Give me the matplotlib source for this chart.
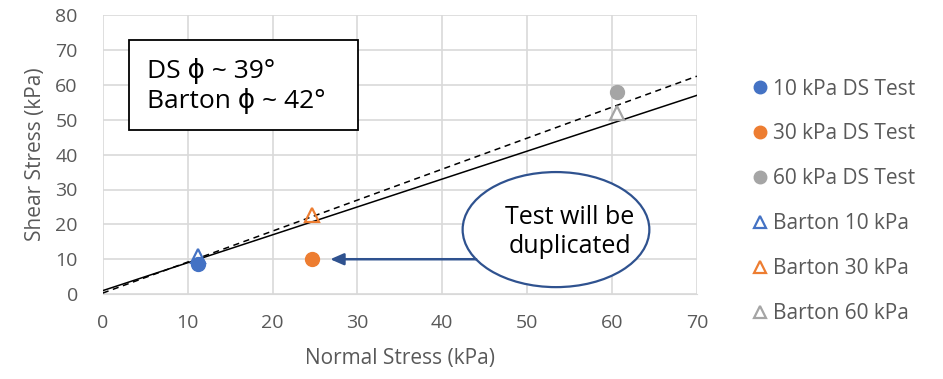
import matplotlib
matplotlib.use("Agg")
import matplotlib.pyplot as plt
from matplotlib.patches import Ellipse, Rectangle

# data
ds_labels = ['10 kPa DS Test', '30 kPa DS Test', '60 kPa DS Test']
ds_x = [11.2, 24.7, 60.6]
ds_y = [8.5, 10.0, 58.0]
barton_labels = ['Barton 10 kPa', 'Barton 30 kPa', 'Barton 60 kPa']
barton_x = [11.2, 24.7, 60.6]
barton_y = [11.0, 22.8, 52.0]
colors = ['#4472C4', '#ED7D31', '#A5A5A5']

# fitted lines (endpoints at x = 0 and x = 70)
fit_x = [0, 70]
ds_fit_y = [1.0, 57.0]
barton_fit_y = [0.3, 62.5]

plt.rcParams['font.family'] = ['Open Sans', 'DejaVu Sans']

fig = plt.figure(figsize=(9.43, 3.79), dpi=100)
ax = fig.add_axes([0.109, 0.224, 0.630, 0.736])

ax.plot(fit_x, ds_fit_y, color='black', lw=1.1, zorder=3)
ax.plot(fit_x, barton_fit_y, color='black', lw=1.1, ls=(0, (4, 3)), zorder=3)

for x, y, c, lab in zip(ds_x, ds_y, colors, ds_labels):
    ax.plot(x, y, 'o', color=c, ms=10, mec=c, label=lab, zorder=4)
for x, y, c, lab in zip(barton_x, barton_y, colors, barton_labels):
    ax.plot(x, y, '^', color=c, ms=10, mfc='none', mew=1.6, label=lab, zorder=4)

ax.set_xlim(0, 70)
ax.set_ylim(0, 80)
ax.set_xticks(range(0, 71, 10))
ax.set_yticks(range(0, 81, 10))
ax.grid(True, color='#d9d9d9', lw=1.2)
ax.set_axisbelow(True)
for s in ['top', 'right', 'left']:
    ax.spines[s].set_visible(False)
ax.spines['bottom'].set_color('#d9d9d9')
ax.tick_params(length=0, labelsize=14, colors='#595959')
ax.tick_params(axis='x', pad=14)
ax.tick_params(axis='y', pad=18)
ax.set_xlabel('Normal Stress (kPa)', fontsize=15, color='#595959', labelpad=12)
ax.set_ylabel('Shear Stress (kPa)', fontsize=15, color='#595959', labelpad=7)

# annotation box with friction angles
ax.add_patch(Rectangle((0.044, 0.588), 0.385, 0.322, transform=ax.transAxes,
                       fc='white', ec='black', lw=1.3, zorder=5))
ax.text(5.2, 59.6, 'DS \u03d5 ~ 39\u00b0\nBarton \u03d5 ~ 42\u00b0', fontsize=19,
        va='center', ha='left', linespacing=1.2, zorder=6)

# callout ellipse and arrow
ax.add_patch(Ellipse((53.4, 18.5), 22.0, 33.0, fc='white', ec='#2F528F', lw=1.6, zorder=5))
ax.text(55.0, 17.8, 'Test will be\nduplicated', fontsize=18, ha='center', va='center',
        linespacing=1.25, zorder=6)
ax.annotate('', xy=(26.8, 10.0), xytext=(44.0, 10.0),
            arrowprops=dict(arrowstyle='-|>,head_length=0.8,head_width=0.35',
                            color='#2F528F', lw=1.8, shrinkA=0, shrinkB=0), zorder=6)

leg = ax.legend(loc='upper left', bbox_to_anchor=(1.065, 0.84), frameon=False,
                fontsize=15, labelspacing=1.15, handlelength=0.6, handletextpad=0.3,
                markerscale=0.9)
for t in leg.get_texts():
    t.set_color('#595959')

fig.savefig('out.png', dpi=100)
